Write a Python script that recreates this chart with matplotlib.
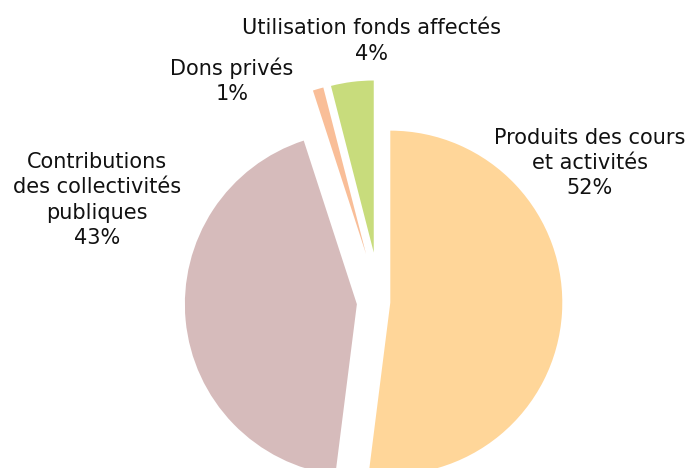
import matplotlib
matplotlib.use("Agg")
import matplotlib.pyplot as plt

labels = ["Produits des cours\net activités", "Contributions\ndes collectivités\npubliques", "Dons privés", "Utilisation fonds affectés"]
values = [52, 43, 1, 4]
pct_labels = ["52%", "43%", "1%", "4%"]
colors = ["#FFD699", "#D6BBBB", "#F9BE98", "#C8DC7C"]
explode_frac = [0.06, 0.135, 0.29, 0.29]

W, H = 694, 468
fig = plt.figure(figsize=(W / 100, H / 100), dpi=100)
ax = fig.add_axes([0, 0, 1, 1])

cx, cy, r = 380, H - 302, 172
ax.pie(values, colors=colors, explode=[e * r for e in explode_frac], startangle=90,
       counterclock=False, center=(cx, cy), radius=r, frame=True,
       wedgeprops=dict(linewidth=0))
ax.set_xlim(0, W)
ax.set_ylim(0, H)
ax.set_aspect("equal")
ax.axis("off")

label_pos = [(590, 163), (97, 200), (232, 81), (372, 41)]
for lab, pct, (x, y) in zip(labels, pct_labels, label_pos):
    ax.text(x, H - y, lab + "\n" + pct, ha="center", va="center", fontsize=15,
            family="DejaVu Sans", color="#111111", linespacing=1.33)

fig.savefig("out.png", dpi=100)
